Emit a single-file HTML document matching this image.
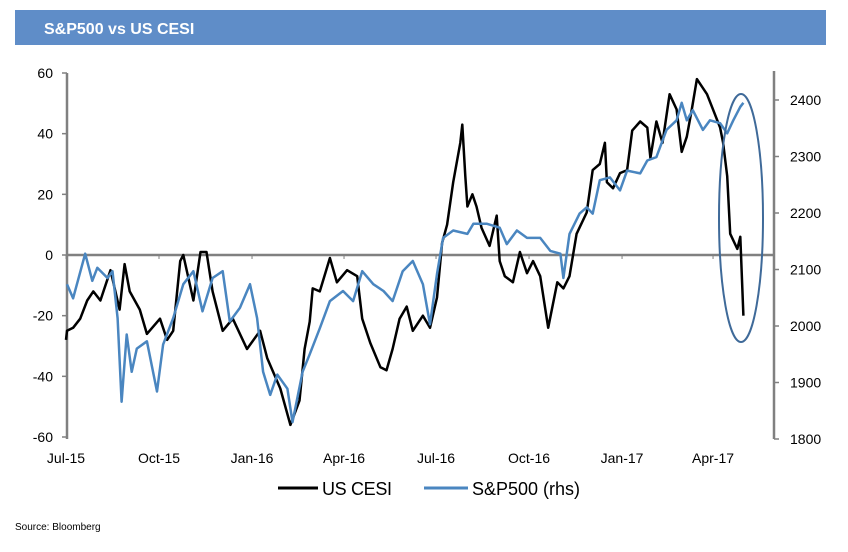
<!DOCTYPE html>
<html><head><meta charset="utf-8"><style>
body{margin:0;background:#fff;width:848px;height:547px;overflow:hidden;font-family:"Liberation Sans",sans-serif}
</style></head><body>
<svg width="848" height="547" viewBox="0 0 848 547" font-family="Liberation Sans, sans-serif">
<rect x="15" y="10" width="811" height="35" fill="#5f8dc8"/>
<text x="44" y="34" fill="#fff" font-weight="bold" font-size="16">S&amp;P500 vs US CESI</text>
<g id="axes"></g>
<g id="series"></g>
<ellipse cx="741" cy="218" rx="22" ry="124" fill="none" stroke="#3f6a99" stroke-width="2"/>
<g>
<line x1="278" y1="488" x2="318" y2="488" stroke="#000" stroke-width="3"/>
<text x="322" y="495" font-size="18" textLength="70">US CESI</text>
<line x1="424" y1="488" x2="468" y2="488" stroke="#4a86c0" stroke-width="3"/>
<text x="472" y="495" font-size="18" textLength="108">S&amp;P500 (rhs)</text>
</g>
<text x="15" y="530" font-size="10">Source:  Bloomberg</text>
</svg>
<script>
const tickLabelsX = ["Jul-15","Oct-15","Jan-16","Apr-16","Jul-16","Oct-16","Jan-17","Apr-17"];
const tickDaysX = [0,92,184,275,366,458,550,640];
const leftTicks = [60,40,20,0,-20,-40,-60];
const rightTicks = [2400,2300,2200,2100,2000,1900,1800];
const cesiDays = [0,1,7,14,21,27,34,44,53,58,63,73,80,93,100,106,113,116,126,133,139,145,155,165,179,192,199,212,222,231,236,241,244,251,261,268,278,288,293,301,311,317,323,330,337,343,353,360,367,372,377,383,390,392,395,397,402,406,411,419,426,429,434,442,449,456,462,469,477,486,492,498,505,515,521,528,533,535,541,548,555,560,568,575,578,584,590,597,604,609,614,619,624,634,640,647,650,654,657,664,667,670];
const cesiValues = [-28,-25,-24,-21,-15,-12,-15,-5,-18,-3,-12,-18,-26,-21,-28,-25,-2,0,-15,1,1,-12,-25,-21,-31,-25,-34,-44,-56,-48,-31,-22,-11,-12,-1,-9,-5,-7,-21,-29,-37,-38,-31,-21,-17,-25,-20,-24,-14,4,10,24,37,43,26,16,20,16,9,3,13,-2,-7,-9,1,-6,-2,-7,-24,-9,-11,-7,7,14,28,30,37,24,22,27,28,41,44,42,32,44,37,53,48,34,39,48,58,53,48,42,37,26,7,2,6,-20];
const spxDays = [1,7,19,26,31,41,46,51,55,60,65,70,80,90,96,106,116,126,135,145,155,162,172,182,189,195,202,209,219,224,234,241,251,261,274,284,293,304,314,323,333,343,353,360,367,373,383,397,403,416,429,436,446,456,469,479,489,492,498,508,515,521,528,538,548,555,568,575,584,594,604,609,614,620,630,637,647,654,660,667,670];
const spxValues = [2074,2049,2128,2080,2103,2085,2097,2014,1866,1985,1919,1960,1973,1884,1967,2014,2074,2097,2026,2085,2097,2008,2032,2074,2014,1919,1878,1914,1889,1830,1919,1950,1996,2044,2062,2044,2097,2074,2062,2044,2097,2115,2074,2003,2092,2156,2169,2163,2181,2181,2174,2145,2169,2156,2156,2133,2128,2085,2163,2199,2210,2199,2258,2263,2240,2275,2270,2293,2299,2347,2364,2395,2364,2382,2347,2364,2359,2341,2364,2388,2395];

const NS='http://www.w3.org/2000/svg';
const X0=67, XR=774, Y60=73, Ym60=439;
const xs=d=>66+d*1.011;
const yl=v=>255-v*(Y60-255)/-60;
const yr=v=>100+(2400-v)*(439-100)/600;
function mk(tag,attrs,parent){const e=document.createElementNS(NS,tag);for(const k in attrs)e.setAttribute(k,attrs[k]);parent.appendChild(e);return e;}
const ax=document.getElementById('axes');
let e;
e=mk('line',{x1:X0,y1:Y60,x2:X0,y2:Ym60,stroke:'#808080','stroke-width':2.5},ax);


e=mk('line',{x1:XR,y1:Y60-2,x2:XR,y2:Ym60,stroke:'#808080','stroke-width':2.5},ax);


e=mk('line',{x1:X0,y1:yl(0),x2:XR,y2:yl(0),stroke:'#808080','stroke-width':2.5},ax);


leftTicks.forEach(v=>{
  mk('line',{x1:X0-5,y1:yl(v),x2:X0,y2:yl(v),stroke:'#808080','stroke-width':1.5},ax);
  const t=mk('text',{x:X0-14,y:yl(v)+5,'font-size':14,'text-anchor':'end'},ax);
  t.textContent=v;
  
  
});
rightTicks.forEach(v=>{
  mk('line',{x1:XR,y1:yr(v),x2:XR+5,y2:yr(v),stroke:'#808080','stroke-width':1.5},ax);
  const t=mk('text',{x:XR+16,y:yr(v)+5,'font-size':14},ax);
  t.textContent=v;
  
  
});
tickDaysX.forEach((d,i)=>{
  mk('line',{x1:xs(d),y1:yl(0),x2:xs(d),y2:yl(0)+4,stroke:'#808080','stroke-width':1},ax);
  const t=mk('text',{x:xs(d),y:463,'font-size':14,'text-anchor':'middle'},ax);
  t.textContent=tickLabelsX[i];
  
  
});
const sg=document.getElementById('series');
const cp=cesiDays.map((d,i)=>xs(d).toFixed(1)+','+yl(cesiValues[i]).toFixed(1)).join(' ');
const sp=spxDays.map((d,i)=>xs(d).toFixed(1)+','+yr(spxValues[i]).toFixed(1)).join(' ');
e=mk('polyline',{points:cp,fill:'none',stroke:'#000','stroke-width':2.5,'stroke-linejoin':'round'},sg);


e=mk('polyline',{points:sp,fill:'none',stroke:'#4a86c0','stroke-width':2.5,'stroke-linejoin':'round'},sg);


</script>
</body></html>
